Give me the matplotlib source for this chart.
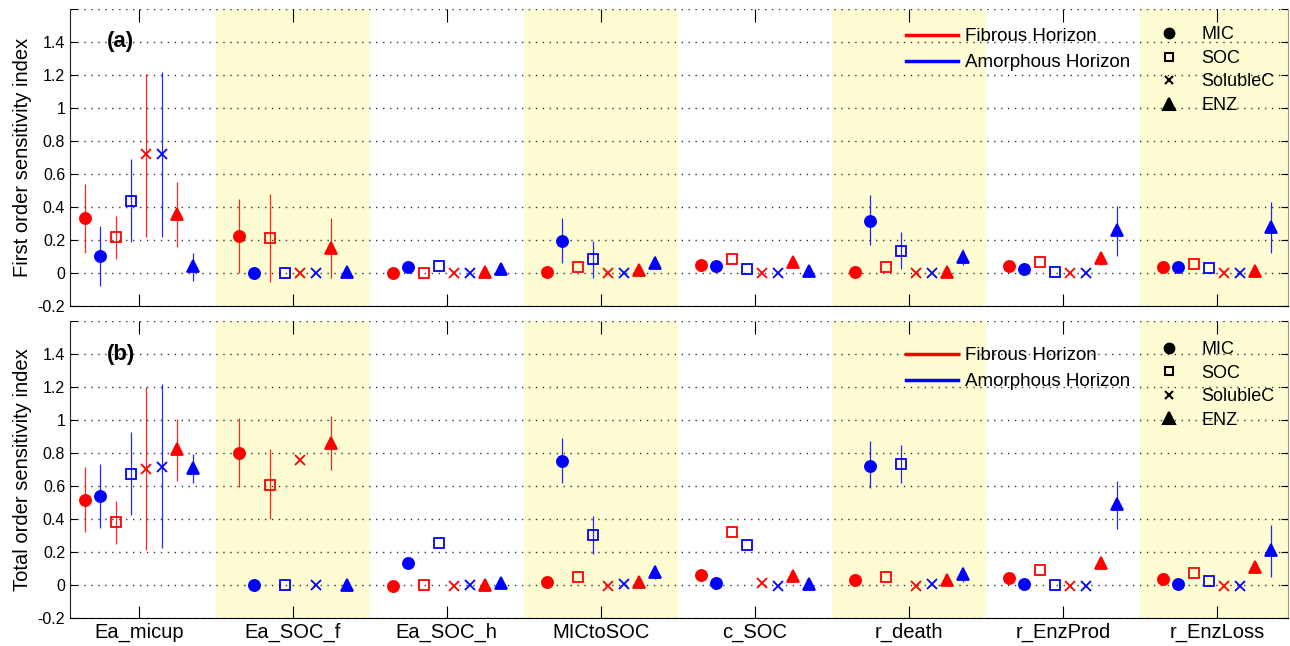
import numpy as np
import matplotlib
matplotlib.use('Agg')
from matplotlib import pyplot as plt
from matplotlib.lines import Line2D

plt.rcParams['font.family'] = ['Liberation Sans', 'DejaVu Sans']

#------------------------------------------------------------
# data
params = ['Ea_micup', 'Ea_SOC_f', 'Ea_SOC_h', 'MICtoSOC',
          'c_SOC', 'r_death', 'r_EnzProd', 'r_EnzLoss']
pools = ['MIC', 'SOC', 'SolubleC', 'ENZ']
horizons = ['Fibrous Horizon', 'Amorphous Horizon']
ytick_vals = [-0.2, 0, 0.2, 0.4, 0.6, 0.8, 1, 1.2, 1.4, 1.6]
ytick_text = ['-0.2', '0', '0.2', '0.4', '0.6', '0.8', '1', '1.2', '1.4', '']
nan = np.nan

# rows: MIC fib, MIC amo, SOC fib, SOC amo, SolC fib, SolC amo, ENZ fib, ENZ amo
first_value = [
    [0.330, 0.220, 0.000, 0.005, 0.047, 0.005, 0.040, 0.033],
    [0.100, 0.000, 0.036, 0.194, 0.039, 0.315, 0.024, 0.033],
    [0.218, 0.212, 0.000, 0.033, 0.081, 0.036, 0.063, 0.053],
    [0.434, 0.000, 0.042, 0.081, 0.024, 0.133, 0.006, 0.027],
    [0.717, 0.000, 0.000, 0.000, 0.000, 0.000, 0.000, 0.000],
    [0.717, 0.000, 0.000, 0.000, 0.000, 0.000, 0.000, 0.000],
    [0.354, 0.152, 0.005, 0.016, 0.067, 0.004, 0.087, 0.012],
    [0.040, 0.005, 0.020, 0.061, 0.012, 0.097, 0.259, 0.275],
]
first_low = [
    [0.120, 0.000, nan, nan, nan, nan, nan, nan],
    [-0.080, nan, nan, 0.057, nan, 0.168, nan, nan],
    [0.080, -0.055, nan, nan, nan, nan, nan, nan],
    [0.184, nan, nan, -0.034, nan, 0.020, nan, nan],
    [0.218, nan, nan, nan, nan, nan, nan, nan],
    [0.218, nan, nan, nan, nan, nan, nan, nan],
    [0.158, -0.030, nan, nan, nan, nan, 0.047, nan],
    [-0.050, nan, nan, 0.020, nan, 0.047, 0.100, 0.118],
]
first_high = [
    [0.540, 0.445, nan, nan, nan, nan, nan, nan],
    [0.280, nan, nan, 0.330, nan, 0.469, nan, nan],
    [0.345, 0.477, nan, nan, nan, nan, nan, nan],
    [0.690, nan, nan, 0.194, nan, 0.248, nan, nan],
    [1.206, nan, nan, nan, nan, nan, nan, nan],
    [1.215, nan, nan, nan, nan, nan, nan, nan],
    [0.550, 0.333, nan, nan, nan, nan, 0.124, nan],
    [0.118, nan, nan, 0.100, nan, 0.142, 0.404, 0.430],
]

total_value = [
    [0.517, 0.800, -0.002, 0.020, 0.060, 0.030, 0.046, 0.040],
    [0.541, 0.000, 0.137, 0.753, 0.014, 0.725, 0.006, 0.010],
    [0.382, 0.608, 0.000, 0.050, 0.323, 0.050, 0.095, 0.077],
    [0.675, 0.000, 0.253, 0.303, 0.242, 0.737, 0.004, 0.026],
    [0.703, 0.757, -0.005, -0.005, 0.014, -0.006, -0.006, -0.006],
    [0.719, 0.000, 0.000, 0.006, -0.006, 0.010, -0.006, -0.006],
    [0.824, 0.864, 0.000, 0.020, 0.055, 0.030, 0.137, 0.110],
    [0.709, 0.000, 0.014, 0.080, 0.006, 0.071, 0.489, 0.212],
]
total_low = [
    [0.323, 0.594, nan, nan, nan, nan, nan, nan],
    [0.349, nan, nan, 0.622, nan, 0.586, nan, nan],
    [0.250, 0.402, nan, nan, nan, nan, nan, nan],
    [0.426, nan, nan, 0.192, nan, 0.620, nan, nan],
    [0.214, nan, nan, nan, nan, nan, nan, nan],
    [0.228, nan, nan, nan, nan, nan, nan, nan],
    [0.634, 0.697, nan, nan, nan, nan, 0.097, 0.080],
    [0.622, nan, nan, 0.040, nan, 0.020, 0.343, 0.050],
]
total_high = [
    [0.713, 1.012, nan, nan, nan, nan, nan, nan],
    [0.733, nan, nan, 0.893, nan, 0.873, nan, nan],
    [0.511, 0.824, nan, nan, nan, nan, nan, nan],
    [0.927, nan, nan, 0.418, nan, 0.852, nan, nan],
    [1.200, nan, nan, nan, nan, nan, nan, nan],
    [1.220, nan, nan, nan, nan, nan, nan, nan],
    [1.006, 1.026, nan, nan, nan, nan, 0.178, 0.140],
    [0.796, nan, nan, 0.120, nan, 0.110, 0.632, 0.364],
]

#------------------------------------------------------------
# styles
colors = ['red', 'blue']
markers = ['o', 's', 'x', '^']
msizes = [8, 7, 7, 9]
leg_msizes = [7, 6, 5.5, 8]
shade = '#fdfcd2'


def draw_panel(ax, value, low, high, tag, ylabel, show_xlabels, leg_y):
    x0 = np.arange(1, len(params) + 1)
    # alternate shaded columns
    for k in range(1, len(params), 2):
        ax.axvspan(x0[k] - 0.5, x0[k] + 0.5, color=shade, lw=0, zorder=0)
    for yv in ytick_vals:
        ax.axhline(yv, color='#333333', lw=1.0, dashes=(1, 4), zorder=1)

    for i in range(8):
        pool, hz = i // 2, i % 2
        xs = x0 + (i - 3.5) * 0.1
        v = np.array(value[i])
        lo = np.array(low[i])
        hi = np.array(high[i])
        has = ~np.isnan(lo)
        ax.vlines(xs[has], lo[has], hi[has], color=colors[hz], lw=0.9,
                  alpha=0.85, zorder=2)
        filled = markers[pool] in ('o', '^')
        ax.plot(xs, v, linestyle='none', marker=markers[pool],
                ms=msizes[pool], color=colors[hz],
                mfc=colors[hz] if filled else 'none',
                mew=1.3, zorder=3)

    ax.set_xlim(0.554, 8.463)
    ax.set_ylim(-0.2, 1.6)
    ax.set_yticks(ytick_vals)
    ax.set_yticklabels(ytick_text, fontsize=11.5)
    ax.set_xticks(x0)
    if show_xlabels:
        ax.set_xticklabels(params, fontsize=14.5)
    else:
        ax.set_xticklabels([])
    ax.tick_params(axis='x', direction='in', length=9, top=True, width=0.8)
    ax.tick_params(axis='y', direction='in', length=5, right=True, width=0.8)
    ax.spines['top'].set_visible(False)
    ax.spines['right'].set_color('#999999')
    ax.spines['left'].set_color('#222222')
    ax.set_ylabel(ylabel, fontsize=14.5, labelpad=4)
    ax.text(0.79, 1.40, tag, fontsize=16, fontweight='bold', va='center')

    line_handles = [Line2D([], [], color=c, lw=2.5) for c in colors]
    leg1 = ax.legend(line_handles, horizons, loc='upper left',
                     bbox_to_anchor=(0.686, leg_y[0]), frameon=False,
                     fontsize=13.5, handlelength=2.8, handletextpad=0.35,
                     labelspacing=0.48, borderpad=0, borderaxespad=0)
    ax.add_artist(leg1)
    mk_handles = [Line2D([], [], linestyle='none', marker=m, color='black',
                         mfc='black' if m in ('o', '^') else 'none',
                         ms=s, mew=1.5) for m, s in zip(markers, leg_msizes)]
    ax.legend(mk_handles, pools, loc='upper left',
              bbox_to_anchor=(0.895, leg_y[1]), frameon=False,
              fontsize=13, handlelength=1.0, handletextpad=1.3,
              labelspacing=0.36, borderpad=0, borderaxespad=0)


fig = plt.figure(figsize=(12.9, 6.46), dpi=100)
ax_a = fig.add_axes([0.0543, 0.5268, 0.9442, 0.4598])
ax_b = fig.add_axes([0.0543, 0.0429, 0.9442, 0.4602])

draw_panel(ax_a, first_value, first_low, first_high, '(a)',
           'First order sensitivity index', False, (0.935, 0.94))
draw_panel(ax_b, total_value, total_low, total_high, '(b)',
           'Total order sensitivity index', True, (0.912, 0.932))

fig.savefig('out.png', dpi=100)
